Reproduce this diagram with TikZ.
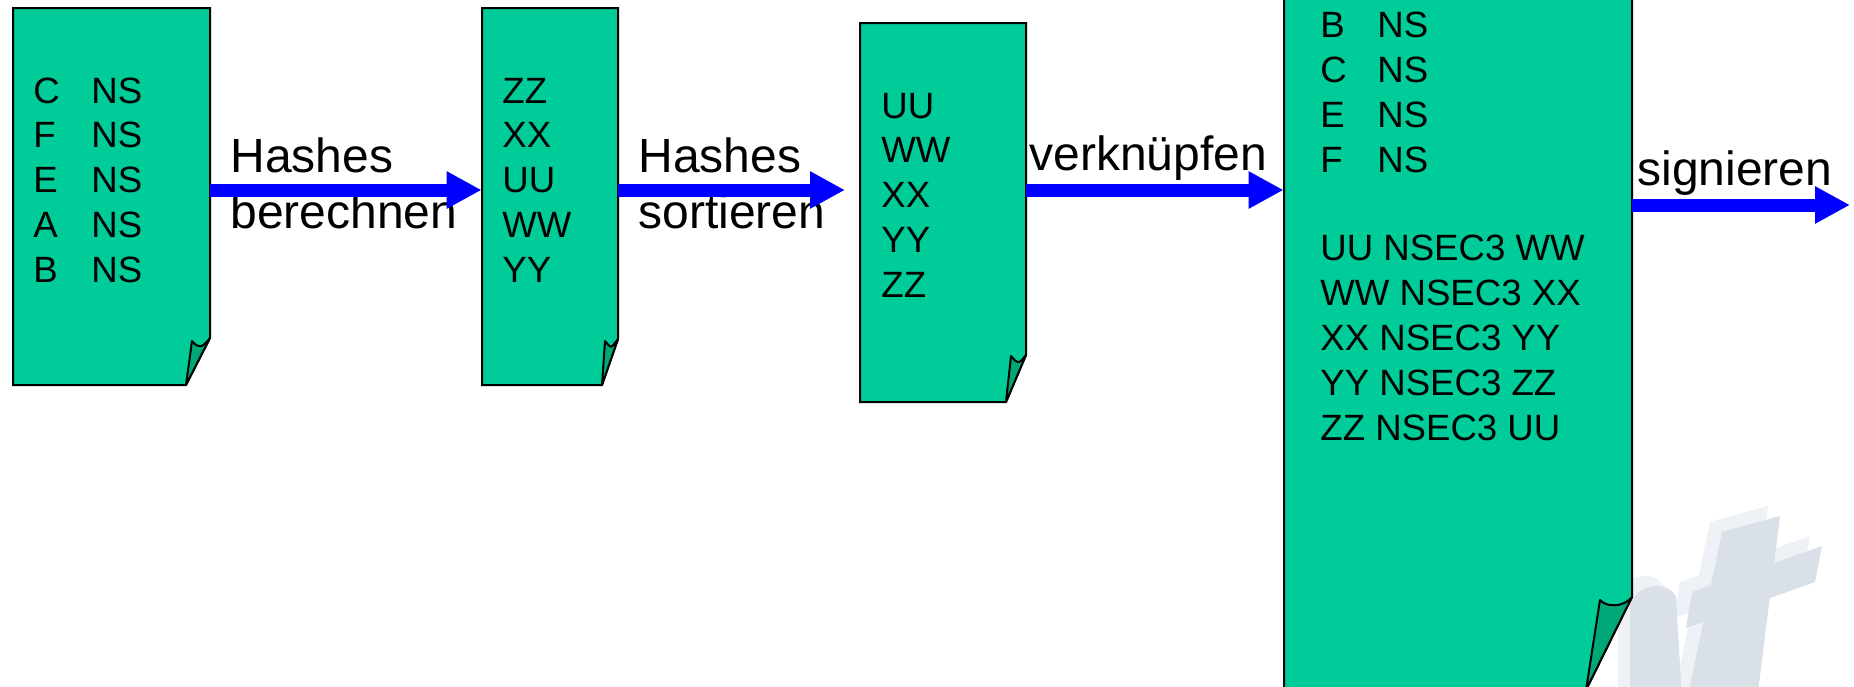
\documentclass[tikz,border=0pt]{standalone}
\usepackage{fontspec}
\setmainfont{Liberation Sans}
\usetikzlibrary{arrows.meta}

\definecolor{sheetgreen}{RGB}{0,204,153}
\definecolor{flapgreen}{RGB}{0,168,120}
\definecolor{markgray}{RGB}{218,224,231}
\definecolor{marklight}{RGB}{238,241,245}

\tikzset{
  sheet/.style={fill=sheetgreen,draw=black,line width=1pt},
  flap/.style={fill=flapgreen,draw=black,line width=1pt,line join=round},
  entry/.style={anchor=base west,inner sep=0pt,font=\fontsize{18.3}{22}\selectfont},
  caption/.style={anchor=base west,inner sep=0pt,font=\fontsize{24}{28}\selectfont},
  flow/.style={blue,line width=6.5pt,-{Triangle[length=17.5pt,width=17.5pt]}},
}

% name, left, top, right, bottom, fold on right edge, fold on bottom edge, curl tip
\newcommand{\docsheet}[8]{%
  \node[inner sep=0pt,minimum width={(#4-#2)*0.5pt},minimum height={(#5-#3)*0.5pt}] (#1) at ({(#2+#4)/2},{(#3+#5)/2}) {};
  \draw[sheet] (#2,#3) -- (#4,#3) -- (#4,#6) -- (#7,#5) -- (#2,#5) -- cycle;
  \draw[flap] (#4,#6) .. controls +(-8,10) and +(7,8) .. (#8) -- (#7,#5) -- cycle;
}

\begin{document}
\begin{tikzpicture}[x=0.5pt,y=-0.5pt]
\useasboundingbox (0,0) rectangle (1854,686);

% watermark
\foreach \dx/\dy/\c in {-12/-10/marklight,0/0/markgray}
{
  \begin{scope}[shift={(\dx,\dy)}]
  \fill[\c] (1630,700) -- (1630,605) .. controls (1636,586) and (1664,578) .. (1676,596) -- (1682,700) -- cycle;
  \fill[\c] (1722,532) -- (1780,516) -- (1757,700) -- (1687,700) -- cycle;
  \fill[\c] (1692,592) -- (1822,546) -- (1815,582) -- (1686,628) -- cycle;
  \end{scope}
}

\docsheet{zone}{13}{8}{210}{385}{338}{186}{192,341}
\docsheet{hashed}{482}{8}{618}{385}{339}{602}{605,341}
\docsheet{sorted}{860}{23}{1026}{402}{355}{1006}{1011,356}
\docsheet{chained}{1284}{-10}{1632}{690}{597}{1586}{1600,600}

\foreach \k [count=\i from 0] in {C,F,E,A,B}
  \node[entry] (zone-\i) at (33,{103+44.8*\i}) {\makebox[29pt][l]{\k}NS};
\foreach \h [count=\i from 0] in {ZZ,XX,UU,WW,YY}
  \node[entry] (hashed-\i) at (502,{103+44.8*\i}) {\h};
\foreach \h [count=\i from 0] in {UU,WW,XX,YY,ZZ}
  \node[entry] (sorted-\i) at (881,{118+44.8*\i}) {\h};
\foreach \k [count=\i from 0] in {B,C,E,F}
  \node[entry] (chained-\i) at (1320,{37+45*\i}) {\makebox[28.5pt][l]{\k}NS};
\foreach \r [count=\i from 0] in {UU NSEC3 WW,WW NSEC3 XX,XX NSEC3 YY,YY NSEC3 ZZ,ZZ NSEC3 UU}
  \node[entry] (chain-\i) at (1320,{260+45*\i}) {\r};

\node[caption] (calc1) at (230,172) {Hashes};
\node[caption] (calc2) at (230,228) {berechnen};
\node[caption] (sort1) at (638,172) {Hashes};
\node[caption] (sort2) at (638,228) {sortieren};
\node[caption] (link) at (1029,170) {verknüpfen};
\node[caption] (sign) at (1637,185) {signieren};

\coordinate (sortin) at (845,190);
\coordinate (out) at (1850,205);
\draw[flow] (zone.east |- 0,190) -- (hashed.west |- 0,190);
\draw[flow] (hashed.east |- 0,190) -- (sortin);
\draw[flow] (sorted.east |- 0,190) -- (chained.west |- 0,190);
\draw[flow] (chained.east |- out) -- (out);
\end{tikzpicture}
\end{document}
